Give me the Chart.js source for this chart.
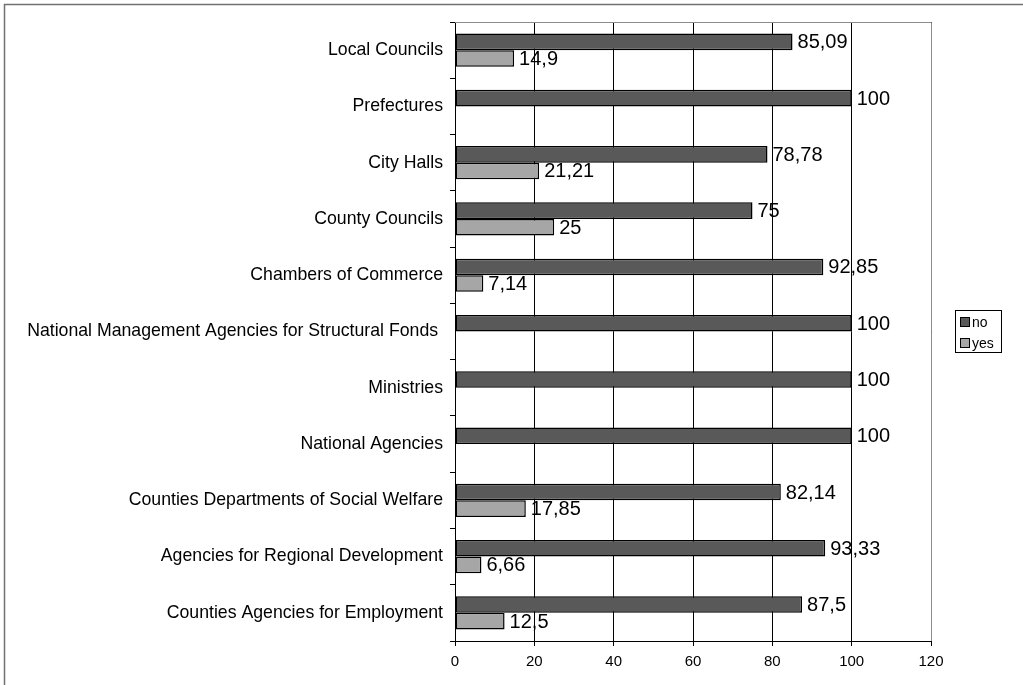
<!DOCTYPE html>
<html>
<head>
<meta charset="utf-8">
<script src="https://cdn.jsdelivr.net/npm/chart.js@4/dist/chart.umd.min.js"></script>
<style>
  html, body { margin: 0; padding: 0; background: #fff; }
  canvas { display: block; }
</style>
</head>
<body>
<canvas id="chart" width="1023" height="685"></canvas>
<script>
// Institutions surveyed (top to bottom)
const categories = [
  "Local Councils",
  "Prefectures",
  "City Halls",
  "County Councils",
  "Chambers of Commerce",
  "National Management Agencies for Structural Fonds ",
  "Ministries",
  "National Agencies",
  "Counties Departments of Social Welfare",
  "Agencies for Regional Development",
  "Counties Agencies for Employment"
];
// Share of answers, percent
const noValues  = [85.09, 100, 78.78, 75, 92.85, 100, 100, 100, 82.14, 93.33, 87.5];
const yesValues = [14.9, null, 21.21, 25, 7.14, null, null, null, 17.85, 6.66, 12.5];
const seriesNames = ["no", "yes"];
const xTicks = [0, 20, 40, 60, 80, 100, 120];

const FONT = "'Liberation Sans', Arial, sans-serif";

function fmt(v) { return String(v).replace('.', ','); }

// Page frame, plot frame, value labels and legend box
const decorations = {
  id: 'decorations',
  beforeDraw(chart) {
    const ctx = chart.ctx;
    ctx.save();
    ctx.fillStyle = '#fff';
    ctx.fillRect(0, 0, chart.width, chart.height);
    ctx.strokeStyle = '#707070';
    ctx.lineWidth = 1.5;
    ctx.beginPath();
    ctx.moveTo(4.5, chart.height);
    ctx.lineTo(4.5, 4.5);
    ctx.lineTo(chart.width, 4.5);
    ctx.stroke();
    ctx.restore();
  },
  afterDraw(chart) {
    const ctx = chart.ctx;
    const a = chart.chartArea;
    ctx.save();
    // grey top and right edges of the plot area
    ctx.strokeStyle = '#8c8c8c';
    ctx.lineWidth = 1;
    ctx.beginPath();
    ctx.moveTo(a.left, Math.round(a.top) + 0.5);
    ctx.lineTo(Math.round(a.right) + 0.5, Math.round(a.top) + 0.5);
    ctx.lineTo(Math.round(a.right) + 0.5, a.bottom);
    ctx.stroke();

    // value labels at the bar ends
    ctx.fillStyle = '#000';
    ctx.font = '20px ' + FONT;
    ctx.textAlign = 'left';
    ctx.textBaseline = 'middle';
    chart.data.datasets.forEach((ds, di) => {
      const meta = chart.getDatasetMeta(di);
      meta.data.forEach((el, i) => {
        const v = ds.data[i];
        if (v === null || v === undefined) return;
        ctx.fillText(fmt(v), el.x + 5, el.y + 1);
      });
    });

    // legend
    const lx = 955, ly = 310, lw = 46, lh = 42;
    ctx.strokeStyle = '#000';
    ctx.lineWidth = 1;
    ctx.strokeRect(lx + 0.5, ly + 0.5, lw, lh);
    ctx.font = '14px ' + FONT;
    chart.data.datasets.forEach((ds, di) => {
      const cy = ly + 12 + di * 21;
      ctx.fillStyle = ds.backgroundColor;
      ctx.fillRect(lx + 6, cy - 4, 8, 8);
      ctx.strokeStyle = '#000';
      ctx.strokeRect(lx + 5.5, cy - 4.5, 9, 9);
      ctx.fillStyle = '#000';
      ctx.fillText(ds.label, lx + 17, cy + 1);
    });
    ctx.restore();
  }
};

new Chart(document.getElementById('chart'), {
  type: 'bar',
  data: {
    labels: categories,
    datasets: [
      {
        label: seriesNames[0],
        data: noValues,
        backgroundColor: '#595959',
        borderColor: '#000',
        borderWidth: 1.5,
        borderSkipped: false,
        barPercentage: 1,
        categoryPercentage: 0.59
      },
      {
        label: seriesNames[1],
        data: yesValues,
        backgroundColor: '#a6a6a6',
        borderColor: '#000',
        borderWidth: 1.5,
        borderSkipped: false,
        barPercentage: 1,
        categoryPercentage: 0.59
      }
    ]
  },
  options: {
    indexAxis: 'y',
    responsive: false,
    animation: false,
    layout: { padding: { top: 22, right: 92, left: 0, bottom: 0 } },
    plugins: {
      legend: { display: false },
      tooltip: { enabled: false }
    },
    scales: {
      x: {
        type: 'linear',
        min: xTicks[0],
        max: xTicks[xTicks.length - 1],
        afterBuildTicks(scale) {
          scale.ticks = xTicks.map(v => ({ value: v }));
        },
        afterFit(scale) { scale.height = 44; },
        grid: { color: '#000', lineWidth: 1, tickLength: 5 },
        border: { color: '#000', width: 1 },
        ticks: {
          color: '#000',
          padding: 7,
          font: { family: FONT, size: 15 }
        }
      },
      y: {
        type: 'category',
        offset: true,
        afterFit(scale) { scale.width = 455; },
        grid: {
          offset: true,
          drawOnChartArea: false,
          drawTicks: true,
          tickLength: 5,
          color: '#000'
        },
        border: { color: '#000', width: 1 },
        ticks: {
          color: '#000',
          padding: 7,
          autoSkip: false,
          font: { family: FONT, size: 17.7 }
        }
      }
    }
  },
  plugins: [decorations]
});
</script>
</body>
</html>
